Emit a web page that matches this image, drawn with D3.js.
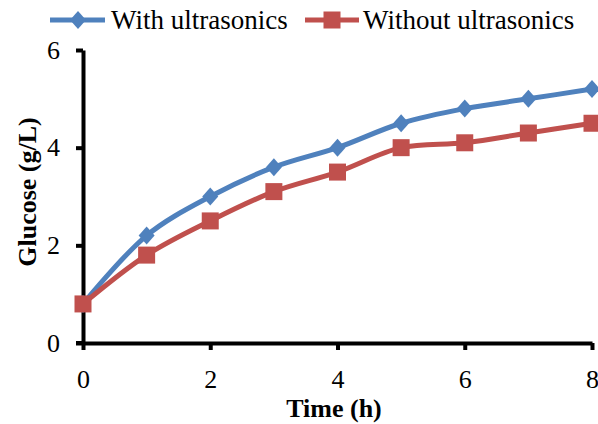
<!DOCTYPE html>
<html><head><meta charset="utf-8">
<script src="https://cdn.jsdelivr.net/npm/d3@7"></script>
<style>html,body{margin:0;padding:0;background:#fff;}svg{display:block;}</style>
</head><body>
<svg id="c" width="598" height="424"></svg>
<script>
const timeH = [0, 1, 2, 3, 4, 5, 6, 7, 8];
const withUltrasonics = [0.8, 2.2, 3.0, 3.6, 4.0, 4.5, 4.8, 5.0, 5.2];
const withoutUltrasonics = [0.8, 1.8, 2.5, 3.1, 3.5, 4.0, 4.1, 4.3, 4.5];
const xTicks = [0, 2, 4, 6, 8];
const yTicks = [0, 2, 4, 6];
const seriesNames = ["With ultrasonics", "Without ultrasonics"];

const svg = d3.select("#c");
const font = "'Liberation Serif','Times New Roman',serif";
const x = d3.scaleLinear().domain([0, 8]).range([83, 592]);
const y = d3.scaleLinear().domain([0, 6]).range([343, 50]);
const blue = "#4F81BD", red = "#C0504D";

const xAxis = svg.append("g").attr("transform", "translate(0,343)")
  .call(d3.axisBottom(x).tickValues(xTicks).tickFormat(d3.format("d")).tickSize(7).tickPadding(20).tickSizeOuter(0));
const yAxis = svg.append("g").attr("transform", "translate(83,0)")
  .call(d3.axisLeft(y).tickValues(yTicks).tickFormat(d3.format("d")).tickSize(7).tickPadding(16).tickSizeOuter(0));
[xAxis, yAxis].forEach(g => {
  g.select(".domain").attr("stroke", "#000").attr("stroke-width", 4);
  g.selectAll(".tick line").attr("stroke", "#000").attr("stroke-width", 4);
  g.selectAll(".tick text").attr("fill", "#000").style("font-family", font).style("font-size", "26px");
});
svg.append("line").attr("x1", 76).attr("x2", 83).attr("y1", 343).attr("y2", 343)
  .attr("stroke", "#000").attr("stroke-width", 4);

const line = d3.line().x(d => x(d[0])).y(d => y(d[1])).curve(d3.curveCatmullRom.alpha(0.5));
const dWith = timeH.map((t, i) => [t, withUltrasonics[i]]);
const dWithout = timeH.map((t, i) => [t, withoutUltrasonics[i]]);

svg.append("path").datum(dWith).attr("d", line).attr("fill", "none").attr("stroke", blue).attr("stroke-width", 5);
svg.append("path").datum(dWithout).attr("d", line).attr("fill", "none").attr("stroke", red).attr("stroke-width", 5);

function diamond(g, cx, cy) {
  g.append("path").attr("d", `M${cx},${cy-9}L${cx+8},${cy}L${cx},${cy+9}L${cx-8},${cy}Z`).attr("fill", blue);
}
function square(g, cx, cy) {
  g.append("rect").attr("x", cx - 8.5).attr("y", cy - 8.5).attr("width", 17).attr("height", 17).attr("fill", red);
}
const mk = svg.append("g");
dWith.forEach(d => diamond(mk, x(d[0]), y(d[1])));
dWithout.forEach(d => square(mk, x(d[0]), y(d[1])));

svg.append("text").attr("x", 334).attr("y", 417).attr("text-anchor", "middle")
  .style("font-family", font).style("font-size", "26px").style("font-weight", "bold").text("Time (h)");
svg.append("text").attr("transform", "translate(36,192) rotate(-90)").attr("text-anchor", "middle")
  .style("font-family", font).style("font-size", "26px").style("font-weight", "bold").text("Glucose (g/L)");

const lg = svg.append("g");
const ly = 20;
lg.append("line").attr("x1", 50).attr("x2", 105).attr("y1", ly).attr("y2", ly).attr("stroke", blue).attr("stroke-width", 5);
diamond(lg, 78, ly);
lg.append("text").attr("x", 111).attr("y", ly + 9).style("font-family", font).style("font-size", "27px").text(seriesNames[0]);
lg.append("line").attr("x1", 305).attr("x2", 359).attr("y1", ly).attr("y2", ly).attr("stroke", red).attr("stroke-width", 5);
square(lg, 332, ly);
lg.append("text").attr("x", 363).attr("y", ly + 9).style("font-family", font).style("font-size", "27px").text(seriesNames[1]);
</script>
</body></html>
